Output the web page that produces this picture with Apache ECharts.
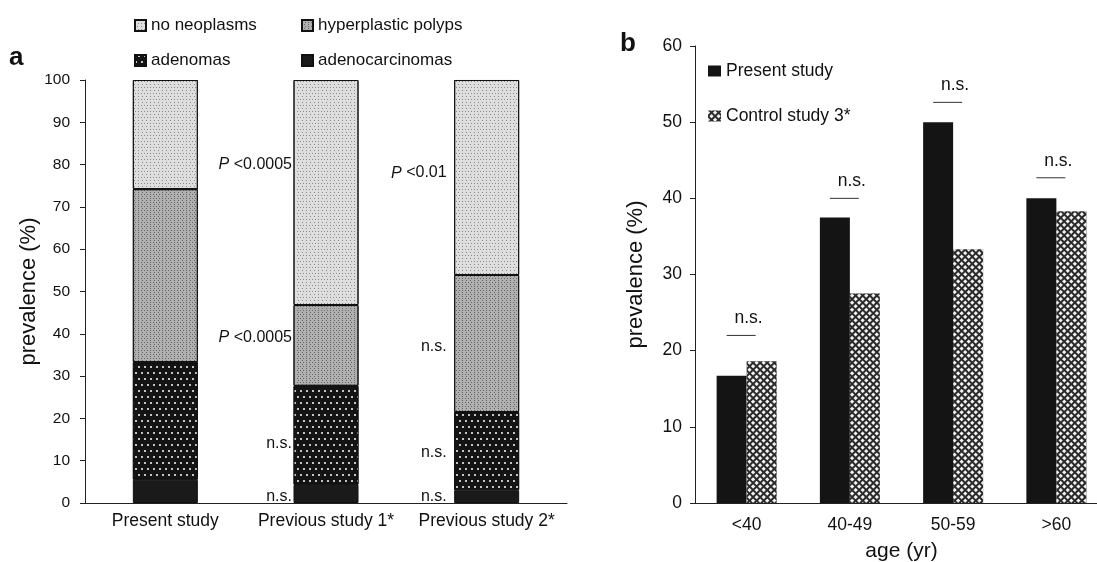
<!DOCTYPE html>
<html>
<head>
<meta charset="utf-8">
<script src="https://cdn.jsdelivr.net/npm/echarts@6/dist/echarts.min.js"></script>
<style>
  html, body { margin: 0; padding: 0; background: #fff; }
  #chart { width: 1097px; height: 562px; }
</style>
</head>
<body>
<div id="chart"></div>
<script>
// panel a: composition by study (%)
const studies = ['Present study', 'Previous study 1*', 'Previous study 2*']
const adenocarcinomas = [5.5, 4.3, 3.0]
const adenomas = [27.8, 23.4, 18.5]
const hyperplastic = [40.9, 19.1, 32.4]
const noNeoplasms = [25.8, 53.2, 46.1]
const ticksA = [0, 10, 20, 30, 40, 50, 60, 70, 80, 90, 100]
// significance labels of panel a: [study index, height, text]
const notesA = [
  [1, 80, 'P <0.0005'], [1, 39, 'P <0.0005'], [1, 14, 'n.s.'], [1, 1.6, 'n.s.'],
  [2, 78, 'P <0.01'], [2, 37, 'n.s.'], [2, 12, 'n.s.'], [2, 1.6, 'n.s.']
]

// panel b: prevalence by age
const ageGroups = ['<40', '40-49', '50-59', '>60']
const presentStudy = [16.7, 37.5, 50.0, 40.0]
const controlStudy = [18.6, 27.5, 33.3, 38.3]
const sigLevelB = [22.0, 40.0, 52.6, 42.7]
const sigTextB = ['n.s.', 'n.s.', 'n.s.', 'n.s.']

const FONT = 'Liberation Sans, Arial, sans-serif'
const INK = '#111'

const chart = echarts.init(document.getElementById('chart'))

function stackBar(name, data, color, decal) {
  return {
    name: name,
    type: 'bar',
    stack: 'a',
    xAxisIndex: 0,
    yAxisIndex: 0,
    barWidth: 65,
    data: data,
    itemStyle: { color: color, borderColor: '#111', borderWidth: 1, decal: decal }
  }
}

chart.setOption({
  animation: false,
  textStyle: { fontFamily: FONT, color: INK },
  graphic: [
    { type: 'text', left: 9, top: 45, style: { text: 'a', font: 'bold 26px ' + FONT, fill: INK } },
    { type: 'text', left: 620, top: 31, style: { text: 'b', font: 'bold 26px ' + FONT, fill: INK } }
  ],
  legend: [
    {
      data: ['no neoplasms', 'adenomas'],
      orient: 'vertical', left: 129, top: 12, itemGap: 18,
      itemWidth: 11, itemHeight: 11, icon: 'rect',
      textStyle: { fontSize: 17, color: INK, fontFamily: FONT }
    },
    {
      data: ['hyperplastic polyps', 'adenocarcinomas'],
      orient: 'vertical', left: 296, top: 12, itemGap: 18,
      itemWidth: 11, itemHeight: 11, icon: 'rect',
      textStyle: { fontSize: 17, color: INK, fontFamily: FONT }
    },
    {
      data: ['Present study', 'Control study 3*'],
      orient: 'vertical', left: 703, top: 57, itemGap: 27,
      itemWidth: 13, itemHeight: 11, icon: 'rect',
      textStyle: { fontSize: 17.5, color: INK, fontFamily: FONT }
    }
  ],
  grid: [
    { left: 85, top: 80, width: 482, height: 423, outerBoundsMode: 'none' },
    { left: 695, top: 46, width: 413, height: 457, outerBoundsMode: 'none' }
  ],
  xAxis: [
    {
      gridIndex: 0, type: 'category', data: studies,
      axisLine: { lineStyle: { color: '#222' } },
      axisTick: { length: 5, interval: 0, lineStyle: { color: '#222' } },
      axisLabel: { fontSize: 17.5, color: INK, margin: 9, interval: 0 }
    },
    {
      gridIndex: 1, type: 'category', data: ageGroups,
      name: 'age (yr)', nameLocation: 'middle', nameGap: 38,
      nameTextStyle: { fontSize: 21, color: INK },
      axisLine: { lineStyle: { color: '#222' } },
      axisTick: { length: 5, interval: 0, lineStyle: { color: '#222' } },
      axisLabel: { fontSize: 17.5, color: INK, margin: 13, interval: 0 }
    }
  ],
  yAxis: [
    {
      gridIndex: 0, type: 'value', min: ticksA[0], max: ticksA[ticksA.length - 1], interval: 10,
      name: 'prevalence (%)', nameLocation: 'middle', nameGap: 43,
      nameTextStyle: { fontSize: 22, color: INK },
      axisLine: { show: true, lineStyle: { color: '#222' } },
      axisTick: { show: true, length: 5, lineStyle: { color: '#222' } },
      axisLabel: { fontSize: 15.5, color: INK, margin: 15 },
      splitLine: { show: false }
    },
    {
      gridIndex: 1, type: 'value', min: 0, max: 60, interval: 10,
      name: 'prevalence (%)', nameLocation: 'middle', nameGap: 48,
      nameTextStyle: { fontSize: 22, color: INK },
      axisLine: { show: true, lineStyle: { color: '#222' } },
      axisTick: { show: true, length: 5, lineStyle: { color: '#222' } },
      axisLabel: { fontSize: 17.5, color: INK, margin: 13 },
      splitLine: { show: false }
    }
  ],
  series: [
    stackBar('adenocarcinomas', adenocarcinomas, '#1a1a1a', null),
    stackBar('adenomas', adenomas, '#141414', {
      symbol: 'circle', symbolSize: 1, color: '#ffffff',
      dashArrayX: [[2, 4], [0, 3, 2, 1]], dashArrayY: [2, 4]
    }),
    stackBar('hyperplastic polyps', hyperplastic, '#b0b0b0', {
      symbol: 'rect', symbolSize: 1, color: '#666',
      dashArrayX: [[1, 2], [0, 1.5, 1, 0.5]], dashArrayY: [1, 1]
    }),
    stackBar('no neoplasms', noNeoplasms, '#dedede', {
      symbol: 'rect', symbolSize: 1, color: '#8a8a8a',
      dashArrayX: [[1, 2], [0, 1.5, 1, 0.5]], dashArrayY: [1, 2]
    }),
    {
      // p-values / n.s. written left of the compared bars
      type: 'custom',
      xAxisIndex: 0,
      yAxisIndex: 0,
      silent: true,
      data: notesA.map(n => [n[0], n[1]]),
      renderItem(params, api) {
        const c = api.coord([api.value(0), api.value(1)])
        const txt = notesA[params.dataIndex][2]
        const gap = api.value(0) === 1 ? 34 : 40
        return {
          type: 'text',
          x: c[0] - gap,
          y: c[1],
          style: {
            text: txt.indexOf('P') === 0 ? '{i|P}' + txt.slice(1) : txt,
            align: 'right',
            verticalAlign: 'middle',
            font: '16px ' + FONT,
            fill: INK,
            rich: { i: { fontStyle: 'italic', fontSize: 16, fontFamily: FONT, fill: INK } }
          }
        }
      }
    },
    {
      name: 'Present study',
      type: 'bar',
      xAxisIndex: 1,
      yAxisIndex: 1,
      barWidth: 30,
      barGap: '0%',
      data: presentStudy,
      itemStyle: { color: '#141414' }
    },
    {
      name: 'Control study 3*',
      type: 'bar',
      xAxisIndex: 1,
      yAxisIndex: 1,
      barWidth: 30,
      barGap: '0%',
      data: controlStudy,
      itemStyle: {
        color: '#2a2a2a',
        decal: {
          symbol: 'rect', symbolSize: 1, color: '#f2f2f2',
          dashArrayX: [3, 1.2], dashArrayY: [3, 1.2], rotation: Math.PI / 4
        }
      }
    },
    {
      type: 'custom',
      xAxisIndex: 1,
      yAxisIndex: 1,
      silent: true,
      data: sigLevelB.map((v, i) => [i, v]),
      renderItem(params, api) {
        const c = api.coord([api.value(0), api.value(1)])
        return {
          type: 'group',
          children: [
            {
              type: 'line',
              shape: { x1: c[0] - 20, y1: c[1], x2: c[0] + 9, y2: c[1] },
              style: { stroke: '#333', lineWidth: 1 }
            },
            {
              type: 'text',
              x: c[0] + 2,
              y: c[1] - 8,
              style: {
                text: sigTextB[params.dataIndex],
                align: 'center',
                verticalAlign: 'bottom',
                font: '17.5px ' + FONT,
                fill: INK
              }
            }
          ]
        }
      }
    }
  ]
})
</script>
</body>
</html>
